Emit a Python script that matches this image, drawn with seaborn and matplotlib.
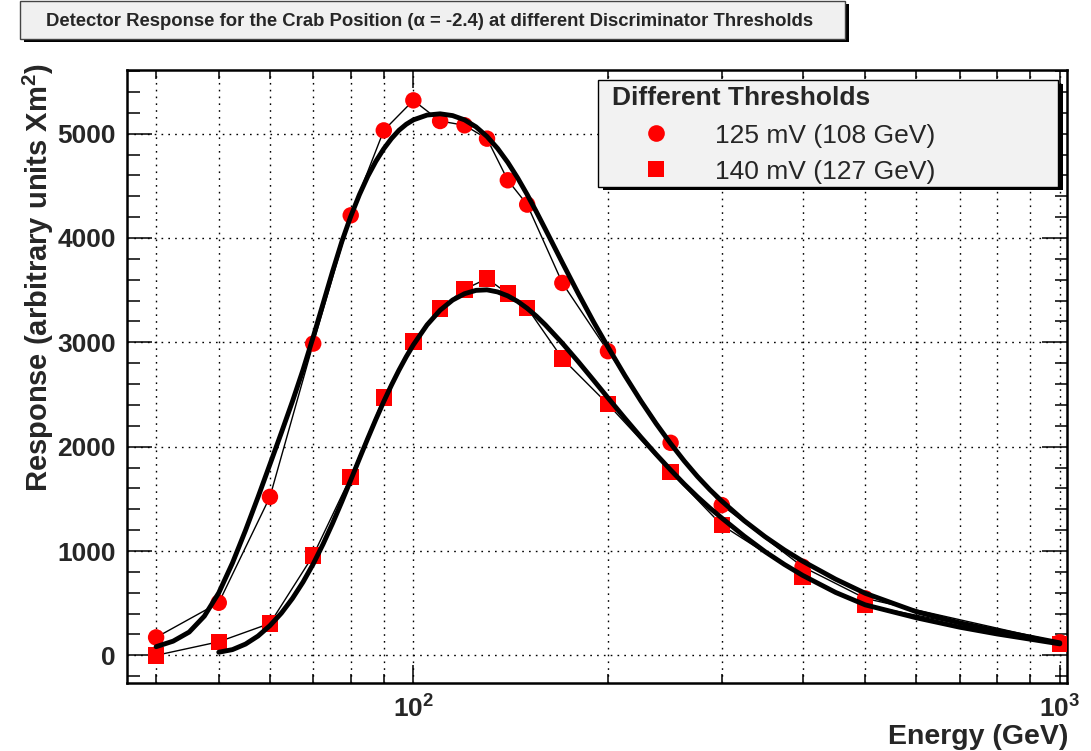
import numpy as np
import pandas as pd
import matplotlib
matplotlib.use("Agg")
import matplotlib.pyplot as plt
import seaborn as sns
from matplotlib.patches import Rectangle
from matplotlib.lines import Line2D
from matplotlib.ticker import FixedLocator, LogLocator, FuncFormatter, MultipleLocator, NullFormatter

# ---- measured detector response (arbitrary units x m^2) ----
energy = [40, 50, 60, 70, 80, 90, 100, 110, 120, 130, 140, 150, 170, 200, 250, 300, 400, 500, 1000]
resp_125 = [172, 504, 1519, 2988, 4217, 5031, 5319, 5121, 5080, 4952, 4553, 4320, 3569, 2915, 2037, 1440, 849, 546, 125]
resp_140 = [0, 130, 306, 958, 1711, 2471, 3008, 3324, 3508, 3611, 3467, 3330, 2845, 2407, 1759, 1248, 753, 482, 110]

# ---- fitted response curves ----
fit_e_125 = [40, 42.5, 45, 47.5, 50, 52.5, 55, 57.5, 60, 62.5, 65, 67.5, 70, 72.5, 75, 77.5, 80,
             82.5, 85, 87.5, 90, 92.5, 95, 97.5, 100, 105, 110, 115, 120, 125, 130, 135, 140, 145,
             150, 155, 160, 170, 180, 190, 200, 212.5, 225, 237.5, 250, 262.5, 275, 287.5, 300,
             325, 350, 375, 400, 450, 500, 600, 700, 800, 900, 1000]
fit_125 = [83, 136, 223, 376, 599, 885, 1198, 1516, 1831, 2135, 2433, 2736, 3052, 3371, 3680, 3964,
           4206, 4414, 4590, 4735, 4855, 4953, 5032, 5090, 5132, 5178, 5190, 5173, 5132, 5065, 4973,
           4858, 4724, 4575, 4416, 4251, 4085, 3764, 3466, 3196, 2955, 2680, 2436, 2220, 2030, 1862,
           1715, 1588, 1478, 1290, 1137, 1010, 903, 730, 595, 418, 312, 236, 175, 120]
fit_e_140 = [50, 52.5, 55, 57.5, 60, 62.5, 65, 67.5, 70, 72.5, 75, 77.5, 80, 82.5, 85, 87.5, 90,
             92.5, 95, 97.5, 100, 105, 110, 115, 120, 125, 130, 135, 140, 145, 150, 155, 160, 170,
             180, 190, 200, 212.5, 225, 237.5, 250, 262.5, 275, 287.5, 300, 325, 350, 375, 400,
             450, 500, 600, 700, 800, 900, 1000]
fit_140 = [30, 55, 108, 185, 285, 405, 545, 702, 876, 1066, 1266, 1472, 1679, 1883, 2078, 2262, 2433,
           2590, 2733, 2862, 2976, 3167, 3308, 3405, 3466, 3498, 3503, 3483, 3445, 3392, 3326, 3251,
           3168, 2992, 2813, 2637, 2468, 2271, 2090, 1926, 1777, 1641, 1520, 1412, 1316, 1142, 994,
           871, 767, 603, 484, 360, 270, 205, 155, 110]

labels = ["125 mV (108 GeV)", "140 mV (127 GeV)"]
legend_title = "Different Thresholds"
title = "Detector Response for the Crab Position (\u03b1 = -2.4) at different Discriminator Thresholds"
xlabel = "Energy (GeV)"
ylabel = r"Response (arbitrary units Xm$^{\mathbf{2}}$)"

sns.set_style("ticks")
plt.rcParams["font.family"] = ["Liberation Sans", "DejaVu Sans"]
plt.rcParams["mathtext.fontset"] = "custom"
plt.rcParams["mathtext.rm"] = "Liberation Sans"
plt.rcParams["mathtext.bf"] = "Liberation Sans:bold"
plt.rcParams["mathtext.it"] = "Liberation Sans:italic"

W, H = 1091, 751
fig = plt.figure(figsize=(W / 100, H / 100), dpi=100)
fig.patch.set_facecolor("white")


def fx(px):
    return px / W


def fy(py):
    return 1 - py / H


ax = fig.add_axes([fx(127), fy(683), (1067 - 127) / W, (683 - 70) / H])
ax.set_xscale("log")

pts = pd.DataFrame({"E": energy * 2,
                    "R": resp_125 + resp_140,
                    "thr": [labels[0]] * len(energy) + [labels[1]] * len(energy)})
fits = pd.DataFrame({"E": fit_e_125 + fit_e_140,
                     "R": fit_125 + fit_140,
                     "thr": [labels[0]] * len(fit_e_125) + [labels[1]] * len(fit_e_140)})

markers = {labels[0]: "o", labels[1]: "s"}
for lab in labels:
    d = pts[pts["thr"] == lab]
    sns.lineplot(data=d, x="E", y="R", ax=ax, color="black", lw=1.0, sort=False,
                 estimator=None, legend=False, zorder=2)
    sns.scatterplot(data=d, x="E", y="R", ax=ax, marker=markers[lab], s=140, color="#ff0000",
                    edgecolor="none", linewidth=0, legend=False, zorder=3)
    f = fits[fits["thr"] == lab]
    sns.lineplot(data=f, x="E", y="R", ax=ax, color="black", lw=3.5, sort=False,
                 estimator=None, legend=False, zorder=4, solid_joinstyle="round")

ax.set_xlim(36.06, 1026)
ax.set_ylim(-265, 5610)
ax.set_xlabel("")
ax.set_ylabel("")

# axes ticks
ax.xaxis.set_major_locator(FixedLocator([100, 1000]))
ax.xaxis.set_minor_locator(LogLocator(base=10, subs=np.arange(2, 10)))
ax.xaxis.set_major_formatter(FuncFormatter(lambda v, p: r"$\mathbf{10^{%d}}$" % round(np.log10(v))))
ax.xaxis.set_minor_formatter(NullFormatter())
ax.yaxis.set_major_locator(MultipleLocator(1000))
ax.yaxis.set_minor_locator(MultipleLocator(200))

ax.tick_params(axis="both", which="both", direction="in", top=True, right=True,
               width=1.1, color="black")
ax.tick_params(axis="x", which="major", length=13, pad=9, labelsize=19)
ax.tick_params(axis="x", which="minor", length=6.5)
ax.tick_params(axis="y", which="major", length=18, pad=8, labelsize=19)
ax.tick_params(axis="y", which="minor", length=9)
for t in ax.get_yticklabels() + ax.get_xticklabels():
    t.set_fontweight("bold")

for s in ax.spines.values():
    s.set_linewidth(1.8)
    s.set_color("black")

grid_kw = dict(color="black", linestyle=(0, (1.2, 3.7)), linewidth=1.0)
ax.grid(which="major", axis="both", **grid_kw)
ax.grid(which="minor", axis="x", **grid_kw)
ax.set_axisbelow(True)

# axis titles
fig.text(fx(1068), fy(744), xlabel, ha="right", va="baseline", fontsize=20.5, fontweight="bold")
fig.text(fx(38), fy(63), ylabel, rotation=90, ha="center", va="top", fontsize=21,
         fontweight="bold")

# title box with drop shadow
fig.add_artist(Rectangle((fx(24), fy(42)), fx(849) - fx(24), fy(4) - fy(42),
                         transform=fig.transFigure, facecolor="black", edgecolor="none"))
fig.add_artist(Rectangle((fx(20), fy(39)), fx(845) - fx(20), fy(1) - fy(39),
                         transform=fig.transFigure, facecolor="#f0f0f0", edgecolor="#444444",
                         linewidth=1))
fig.text(fx(430), fy(21), title, ha="center", va="center", fontsize=13.3, fontweight="bold")

# legend box with drop shadow
fig.add_artist(Rectangle((fx(603), fy(189.5)), fx(1063) - fx(603), fy(84) - fy(189.5),
                         transform=fig.transFigure, facecolor="black", edgecolor="none"))
fig.add_artist(Rectangle((fx(598), fy(186.5)), fx(1058) - fx(598), fy(80) - fy(186.5),
                         transform=fig.transFigure, facecolor="#f2f2f2", edgecolor="black",
                         linewidth=1))
fig.text(fx(612), fy(105), legend_title, ha="left", va="baseline", fontsize=19,
         fontweight="bold")
for i, lab in enumerate(labels):
    yc = 133 + 36 * i
    fig.add_artist(Line2D([fx(656)], [fy(yc)], transform=fig.transFigure,
                          marker=markers[lab], markersize=12, color="#ff0000",
                          markeredgewidth=0, linestyle="none"))
    fig.text(fx(715), fy(yc + 10), lab, ha="left", va="baseline", fontsize=19)

fig.savefig("out.png", dpi=100, facecolor="white")
